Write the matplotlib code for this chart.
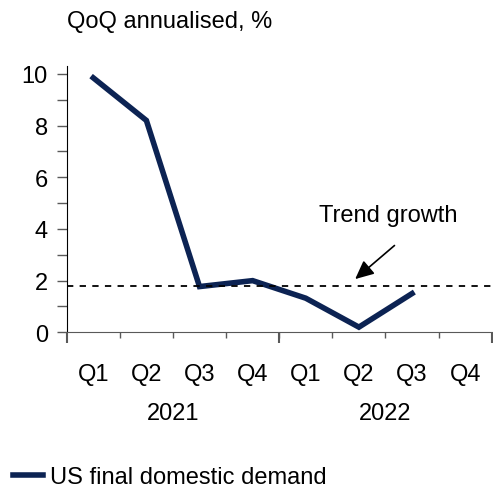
import matplotlib.pyplot as plt
import numpy as np

plt.rcParams['font.family'] = ['Liberation Sans', 'DejaVu Sans']

quarters = ["Q1", "Q2", "Q3", "Q4", "Q1", "Q2", "Q3", "Q4"]
years = ["2021", "2022"]
demand = [9.85, 8.2, 1.77, 2.0, 1.32, 0.2, 1.5]
trend = 1.8

navy = "#0c2353"
grey = "#595959"
fs = 17

fig = plt.figure(figsize=(4.93, 4.89), dpi=100)
ax = fig.add_axes([66.7 / 493, 1 - 333.3 / 489, 425 / 493, 266.6 / 489])

x = np.arange(1, len(demand) + 1)
ax.plot(x, demand, color=navy, lw=4, solid_joinstyle="miter",
        label="US final domestic demand")
ax.axhline(trend, color="black", lw=1.3, ls=(0, (3.5, 3.5)))

ax.set_xlim(0.5, 8.5)
ax.set_ylim(0, 10.32)

for s in ["top", "right"]:
    ax.spines[s].set_visible(False)
ax.spines["left"].set_color("black")
ax.spines["bottom"].set_color(grey)

# y axis
ax.set_yticks(np.arange(0, 11, 2))
ax.set_yticks(np.arange(1, 10, 2), minor=True)
ax.tick_params(axis="y", which="both", length=7.5, width=1, color=grey,
               labelsize=fs, pad=6)

# x axis: quarter labels, minor boundary ticks
ax.set_xticks(x.tolist() + [8])
ax.set_xticklabels(quarters)
ax.set_xticks(np.arange(1.5, 8.5, 1), minor=True)
ax.tick_params(axis="x", which="major", length=0, labelsize=fs, pad=22)
ax.tick_params(axis="x", which="minor", length=4, width=1, color=grey)

# year separators and labels
sec = ax.secondary_xaxis("bottom")
sec.set_xticks([0.5, 4.5, 8.5])
sec.set_xticklabels(["", "", ""])
sec.set_xticks([2.5, 6.5], minor=True)
sec.set_xticklabels(years, minor=True)
sec.tick_params(axis="x", which="major", length=8, width=1.5, color=grey)
sec.tick_params(axis="x", which="minor", length=0, labelsize=fs, pad=50)
sec.spines["bottom"].set_visible(False)

ax.annotate("", xy=(5.93, 2.06), xytext=(6.67, 3.36),
            arrowprops=dict(arrowstyle="-|>,head_width=0.35,head_length=0.75",
                            color="black", lw=1.2,
                            mutation_scale=15, shrinkA=0, shrinkB=0))
ax.text(6.55, 4.55, "Trend growth", fontsize=fs, ha="center", va="center")

fig.text(67 / 493, 1 - 22 / 489, "QoQ annualised, %", fontsize=fs,
         ha="left", va="center")

fig.legend(loc="center left", bbox_to_anchor=(13 / 493, 1 - 478 / 489),
           frameon=False, fontsize=fs, handlelength=1.25, handletextpad=0.3,
           borderpad=0, borderaxespad=0)

fig.savefig("out.png", dpi=100)
